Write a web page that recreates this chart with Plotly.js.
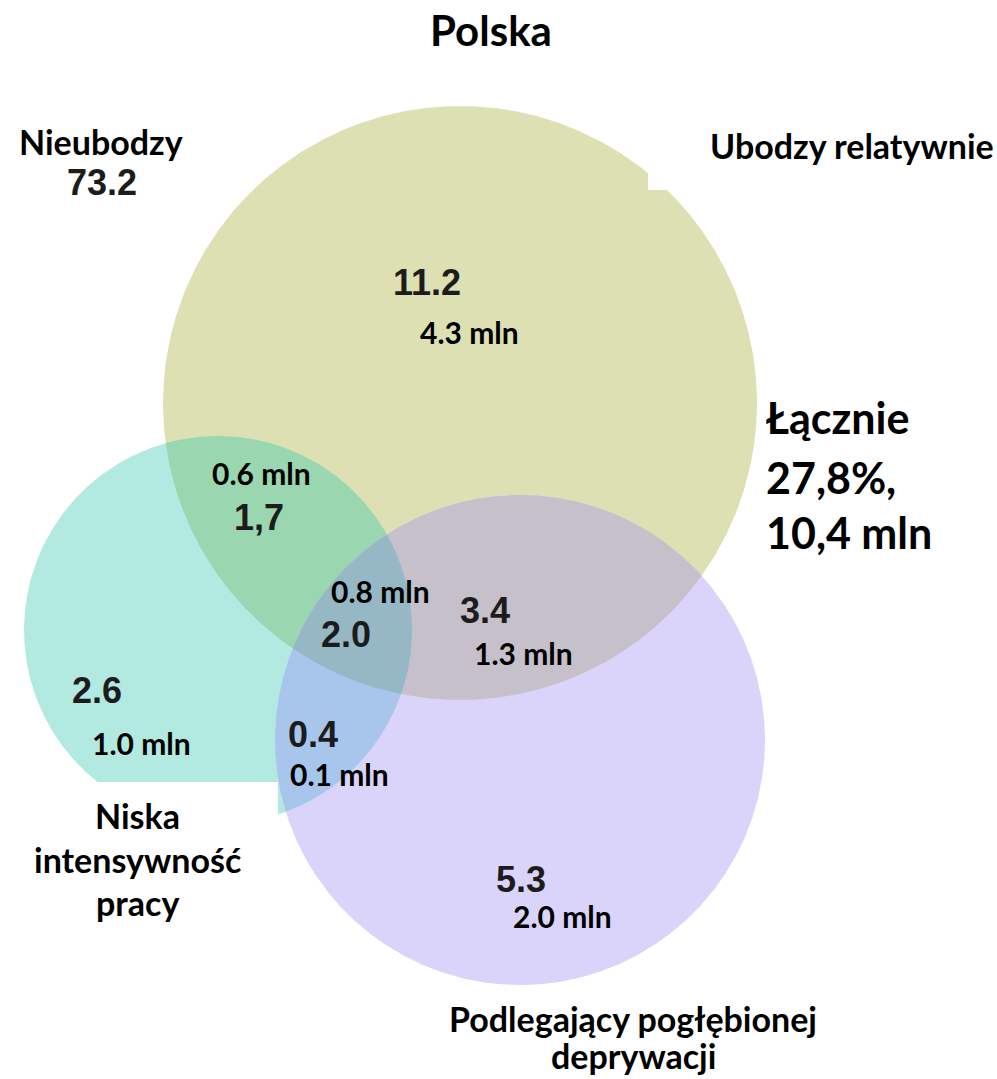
<!DOCTYPE html>
<html>
<head>
<meta charset="utf-8">
<script src="https://cdn.plot.ly/plotly-3.0.1.min.js"></script>
<style>html,body{margin:0;padding:0;background:#fff;}#chart{width:997px;height:1079px;}</style>
</head>
<body>
<div id="chart"></div>
<script>
// ---- data ----
const chartTitle = 'Polska';
const setNames = ['Ubodzy relatywnie', 'Niska intensywność pracy', 'Podlegający pogłębionej deprywacji'];
const regionKeys = ['Y', 'YT', 'YTP', 'YP', 'T', 'TP', 'P'];
const regionPct = ['11.2', '1,7', '2.0', '3.4', '2.6', '0.4', '5.3'];
const regionMln = ['4.3 mln', '0.6 mln', '0.8 mln', '1.3 mln', '1.0 mln', '0.1 mln', '2.0 mln'];
const outsideName = 'Nieubodzy';
const outsidePct = '73.2';
const totalLines = ['Łącznie', '27,8%,', '10,4 mln'];
const setLabelLines = [['Ubodzy relatywnie'], ['Niska', 'intensywność', 'pracy'], ['Podlegający pogłębionej', 'deprywacji']];

// ---- layout geometry (pixels) ----
const circles = {
  Y: {cx: 460, cy: 403, r: 297},
  T: {cx: 218, cy: 630, r: 194},
  P: {cx: 520, cy: 740, r: 245}
};
const colors = {
  Y: '#dce0b2', T: '#b2e9e0', P: '#dad4fa',
  YT: '#9ad6b0', YP: '#c6c0ca', TP: '#a8c5ec', YTP: '#96b8c4'
};
const pctPos = {Y: [427, 282], YT: [259, 517], YTP: [346, 634], YP: [485, 610], T: [97, 690], TP: [313, 734], P: [521, 879]};
const mlnPos = {Y: [469, 332], YT: [261, 473], YTP: [380, 591], YP: [523, 653], T: [141, 743], TP: [339, 774], P: [562, 916]};

function inside(p, c) { const dx = p[0] - c.cx, dy = p[1] - c.cy; return dx * dx + dy * dy <= c.r * c.r + 1e-6; }
function boundary(c, n) {
  const pts = [];
  for (let i = 0; i < n; i++) { const a = 2 * Math.PI * i / n; pts.push([c.cx + c.r * Math.cos(a), c.cy + c.r * Math.sin(a)]); }
  return pts;
}
function region(keys) {
  let pts = [];
  keys.forEach(k => {
    boundary(circles[k], 1440).forEach(p => {
      if (keys.every(o => o === k || inside(p, circles[o]))) pts.push(p);
    });
  });
  const mx = pts.reduce((s, p) => s + p[0], 0) / pts.length;
  const my = pts.reduce((s, p) => s + p[1], 0) / pts.length;
  pts.sort((a, b) => Math.atan2(a[1] - my, a[0] - mx) - Math.atan2(b[1] - my, b[0] - mx));
  pts.push(pts[0]);
  return pts;
}
function polyTrace(pts, color) {
  return {type: 'scatter', mode: 'lines', x: pts.map(p => p[0]), y: pts.map(p => p[1]),
    fill: 'toself', fillcolor: color, line: {width: 0, color: color}, hoverinfo: 'skip', showlegend: false};
}

const traces = [];
['Y', 'T', 'P'].forEach(k => { const b = boundary(circles[k], 1440); b.push(b[0]); traces.push(polyTrace(b, colors[k])); });
[['Y', 'T'], ['Y', 'P'], ['T', 'P'], ['Y', 'T', 'P']].forEach(ks => traces.push(polyTrace(region(ks), colors[ks.join('')])));

const labelFont = 'Lato, "Open Sans", sans-serif';
const numFont = '"Liberation Sans", Arial, sans-serif';
const numStyle = {family: numFont, size: 36, color: '#1c1c1c', weight: 'bold'};
const annotations = [];
function ann(text, x, y, size, opts) {
  annotations.push(Object.assign({text: text, x: x, y: y, xref: 'x', yref: 'y', showarrow: false,
    xanchor: 'center', yanchor: 'middle', borderpad: 0,
    font: {family: labelFont, size: size, color: '#000', weight: 'bold'}}, opts || {}));
}
regionKeys.forEach((k, i) => {
  ann(regionPct[i], pctPos[k][0], pctPos[k][1], 36, {font: numStyle});
  ann(regionMln[i], mlnPos[k][0], mlnPos[k][1], 30);
});
ann(outsideName, 101, 141, 34);
ann(outsidePct, 102, 182, 36, {font: numStyle});
ann(setLabelLines[0][0], 852, 145, 34);
const nY = [815, 859, 902];
setLabelLines[1].forEach((t, i) => ann(t, 137, nY[i], 34));
const pY = [1018, 1055];
setLabelLines[2].forEach((t, i) => ann(t, 633, pY[i], 34));
const tY = [417, 477, 532];
totalLines.forEach((t, i) => ann(t, 765, tY[i], 43, {xanchor: 'left'}));

const layout = {
  width: 997, height: 1079,
  margin: {l: 0, r: 0, t: 0, b: 0},
  paper_bgcolor: '#fff', plot_bgcolor: '#fff',
  title: {text: '<b>' + chartTitle + '</b>', x: 0.4925, xanchor: 'center', y: 0.971, yanchor: 'middle',
    font: {family: labelFont, size: 42, color: '#000'}},
  xaxis: {range: [0, 997], visible: false, fixedrange: true},
  yaxis: {range: [1079, 0], visible: false, fixedrange: true},
  showlegend: false,
  shapes: [
    {type: 'rect', xref: 'x', yref: 'y', x0: 0, x1: 278, y0: 782, y1: 1079, fillcolor: '#fff', line: {width: 0}, layer: 'above'},
    {type: 'rect', xref: 'x', yref: 'y', x0: 648, x1: 705, y0: 152, y1: 190, fillcolor: '#fff', line: {width: 0}, layer: 'above'}
  ],
  annotations: annotations
};
Plotly.newPlot('chart', traces, layout, {staticPlot: true, displayModeBar: false});
</script>
</body>
</html>
